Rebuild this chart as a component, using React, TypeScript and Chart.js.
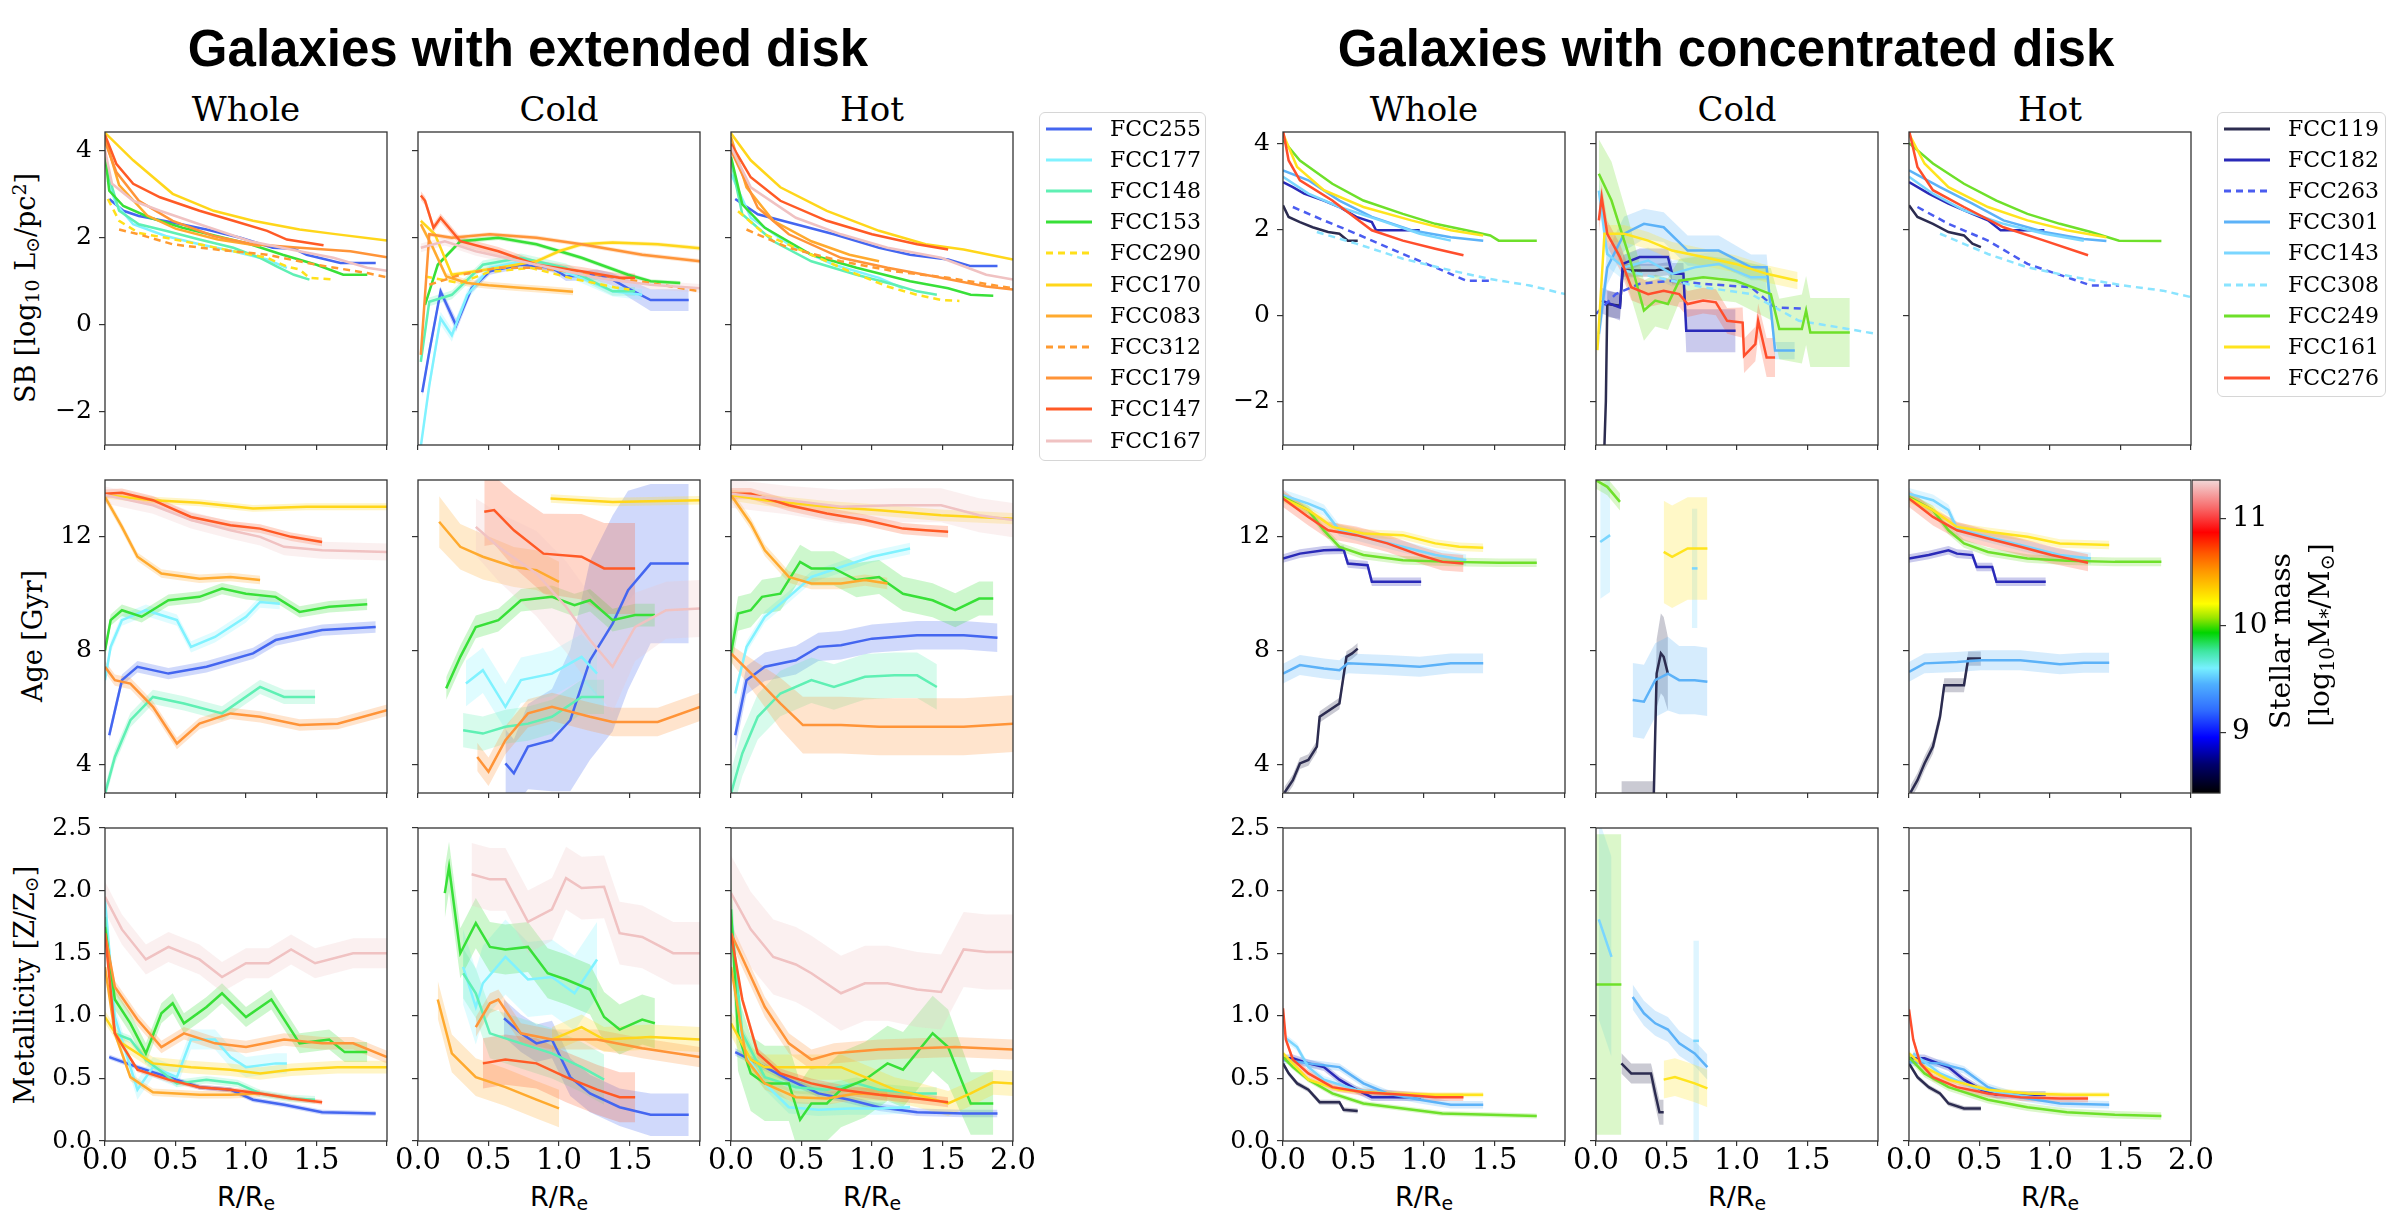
import React, { useEffect, useRef } from 'react';
import { Chart, registerables } from 'chart.js';
Chart.register(...registerables);

type Pt = number[];
type PanelData = Record<string, Pt[]>;

// ---------- series names / styles ----------
const extNames = ['FCC255', 'FCC177', 'FCC148', 'FCC153', 'FCC290', 'FCC170', 'FCC083', 'FCC312', 'FCC179', 'FCC147', 'FCC167'];
const extColors = ['#4466f0', '#80f2ff', '#5ff0b4', '#38e038', '#ffe01a', '#ffd61a', '#ffaa2e', '#ff9a30', '#ff9438', '#ff5a26', '#f0c2c2'];
const extDashed = [false, false, false, false, true, false, false, true, false, false, false];
const conNames = ['FCC119', 'FCC182', 'FCC263', 'FCC301', 'FCC143', 'FCC308', 'FCC249', 'FCC161', 'FCC276'];
const conColors = ['#2c2c50', '#2a2ab8', '#4a5cf0', '#5cb2f8', '#7ad6ff', '#8ae4ff', '#6ee02a', '#ffe41e', '#ff4e2c'];
const conDashed = [false, false, true, false, false, true, false, false, false];

// ---------- ticks ----------
const xTicks = [0, 0.5, 1, 1.5, 2];
const sbTicks = [-2, 0, 2, 4];
const ageTicks = [4, 8, 12];
const zTicks = [0, 0.5, 1, 1.5, 2, 2.5];
const cbTicks = [9, 10, 11];
const extSBRange = [-2.77, 4.42];
const conSBRange = [-3.0, 4.26];
const ageRange = [2.99, 14.0];
const zRange = [0, 2.5];
const cbRange = [8.43, 11.36];

// ---------- data: points are [R/Re, value, band half-width] ----------
const extSBWhole: PanelData = {
  FCC255: [[0.03, 2.88], [0.13, 2.61], [0.24, 2.49], [0.48, 2.34], [0.72, 2.18], [0.96, 1.99], [1.19, 1.76], [1.34, 1.74], [1.43, 1.6], [1.67, 1.41], [1.92, 1.41]],
  FCC177: [[0.02, 3.3], [0.08, 2.76], [0.2, 2.3], [0.43, 2.03], [0.67, 1.84], [0.91, 1.68], [1.15, 1.49], [1.29, 1.3]],
  FCC148: [[0, 3.9], [0.03, 3.38], [0.1, 2.61], [0.24, 2.3], [0.43, 2.15], [0.67, 1.95], [0.91, 1.76], [1.1, 1.53], [1.22, 1.33], [1.34, 1.14], [1.45, 1.03]],
  FCC153: [[0, 3.9], [0.03, 3.07], [0.13, 2.72], [0.32, 2.45], [0.55, 2.22], [0.79, 2.03], [1.03, 1.84], [1.26, 1.6], [1.5, 1.37], [1.69, 1.14], [1.86, 1.14]],
  FCC290: [[0.02, 2.88], [0.1, 2.38], [0.24, 2.1], [0.43, 1.99], [0.67, 1.84], [0.91, 1.68], [1.15, 1.53], [1.29, 1.33], [1.38, 1.26], [1.45, 1.07], [1.62, 1.03]],
  FCC170: [[0, 4.4], [0.2, 3.77], [0.48, 3.0], [0.77, 2.61], [1.05, 2.38], [1.38, 2.18], [1.62, 2.08], [2.0, 1.93]],
  FCC083: [[0, 4.3], [0.1, 3.2], [0.3, 2.5], [0.5, 2.2], [0.8, 1.95], [1.1, 1.8]],
  FCC312: [[0.1, 2.18], [0.24, 2.07], [0.48, 1.84], [0.79, 1.72], [1.15, 1.6], [1.5, 1.37], [1.86, 1.18], [2.0, 1.08]],
  FCC179: [[0, 4.2], [0.08, 3.5], [0.24, 2.84], [0.48, 2.38], [0.77, 2.03], [1.05, 1.84], [1.38, 1.76], [1.74, 1.68], [2.0, 1.54]],
  FCC147: [[0, 4.35], [0.08, 3.69], [0.2, 3.23], [0.39, 2.92], [0.67, 2.61], [0.91, 2.38], [1.15, 2.15], [1.29, 1.95], [1.55, 1.82]],
  FCC167: [[0, 4.0], [0.05, 3.23], [0.2, 2.84], [0.39, 2.61], [0.67, 2.3], [1.03, 1.91], [1.38, 1.68], [1.62, 1.53], [1.86, 1.3], [2.0, 1.23]],
};
const extSBCold: PanelData = {
  FCC255: [[0.03, -1.56, 0.1], [0.08, -0.63, 0.15], [0.16, 0.76, 0.1], [0.27, -0.02, 0.15], [0.38, 0.83, 0.1], [0.51, 1.22, 0.08], [0.73, 1.37, 0.08], [0.95, 1.3, 0.08], [1.05, 1.1, 0.1], [1.27, 1.14, 0.12], [1.38, 1.03, 0.15], [1.49, 0.83, 0.2], [1.65, 0.56, 0.25], [1.92, 0.56, 0.25]],
  FCC177: [[0.02, -2.8, 0.1], [0.08, -1.4, 0.15], [0.16, 0.14, 0.15], [0.24, -0.25, 0.15], [0.35, 0.68, 0.12], [0.51, 1.3, 0.1], [0.73, 1.45, 0.1], [0.95, 1.3, 0.1], [1.16, 1.07, 0.12], [1.38, 0.76, 0.12], [1.59, 0.68, 0.12]],
  FCC148: [[0.02, -0.86, 0.1], [0.08, 0.52, 0.1], [0.24, 0.68, 0.1], [0.46, 1.37, 0.1], [0.73, 1.53, 0.1], [1.05, 1.3, 0.1], [1.38, 0.76, 0.1], [1.54, 0.76, 0.1]],
  FCC153: [[0.05, 0.45, 0.05], [0.14, 1.37, 0.05], [0.3, 1.91, 0.05], [0.57, 1.99, 0.05], [0.84, 1.84, 0.05], [1.16, 1.53, 0.05], [1.49, 1.14, 0.05], [1.65, 0.99, 0.05], [1.86, 0.95, 0.05]],
  FCC290: [[0.05, 1.1], [0.3, 0.95], [0.5, 1.2], [0.8, 1.3], [1.1, 1.05], [1.4, 0.85], [1.5, 0.8]],
  FCC170: [[0.02, 2.38, 0.05], [0.12, 2.07, 0.05], [0.24, 1.14, 0.05], [0.41, 1.22, 0.05], [0.57, 1.3, 0.05], [0.84, 1.45, 0.05], [1.0, 1.68, 0.05], [1.16, 1.84, 0.05], [1.38, 1.88, 0.05], [1.7, 1.84, 0.05], [2.0, 1.75, 0.05]],
  FCC083: [[0.02, 2.3, 0.08], [0.1, 1.8, 0.08], [0.2, 1.1, 0.08], [0.35, 0.95, 0.08], [0.5, 0.9, 0.08], [0.7, 0.85, 0.08], [0.9, 0.8, 0.08], [1.1, 0.75, 0.08]],
  FCC312: [[0.08, 0.91], [0.3, 1.14], [0.57, 1.3], [0.84, 1.3], [1.27, 1.14], [1.65, 0.95], [2.0, 0.76]],
  FCC179: [[0.02, -0.7, 0.05], [0.08, 2.07, 0.05], [0.24, 1.99, 0.05], [0.51, 2.07, 0.05], [0.84, 1.99, 0.05], [1.16, 1.84, 0.05], [1.59, 1.6, 0.05], [2.0, 1.45, 0.05]],
  FCC147: [[0.02, 2.96, 0.1], [0.05, 2.84, 0.1], [0.11, 2.22, 0.1], [0.16, 2.45, 0.1], [0.3, 1.91, 0.1], [0.57, 1.68, 0.1], [0.84, 1.37, 0.1], [1.16, 1.22, 0.1], [1.43, 1.07, 0.1], [1.54, 1.07, 0.1]],
  FCC167: [[0.02, 1.76, 0.1], [0.19, 1.91, 0.1], [0.41, 1.68, 0.1], [0.84, 1.37, 0.1], [1.27, 1.07, 0.1], [1.65, 0.91, 0.1], [2.0, 0.83, 0.1]],
};
const extSBHot: PanelData = {
  FCC255: [[0.03, 2.88], [0.19, 2.53], [0.46, 2.3], [0.73, 2.07], [1.05, 1.76], [1.27, 1.6], [1.54, 1.49], [1.7, 1.34], [1.89, 1.34]],
  FCC177: [[0, 3.46], [0.14, 2.45], [0.41, 1.84], [0.73, 1.37], [1.05, 1.07], [1.22, 0.83]],
  FCC148: [[0, 3.77], [0.08, 2.53], [0.3, 1.91], [0.57, 1.45], [0.89, 1.14], [1.16, 0.91], [1.32, 0.76], [1.46, 0.68]],
  FCC153: [[0, 3.85], [0.08, 2.76], [0.24, 2.22], [0.57, 1.6], [0.89, 1.3], [1.27, 0.99], [1.54, 0.83], [1.7, 0.68], [1.86, 0.66]],
  FCC290: [[0.05, 2.6], [0.24, 2.07], [0.57, 1.6], [0.84, 1.22], [1.11, 0.87], [1.32, 0.68], [1.49, 0.56], [1.62, 0.54]],
  FCC170: [[0, 4.39], [0.14, 3.77], [0.35, 3.15], [0.68, 2.61], [1.05, 2.15], [1.38, 1.84], [1.65, 1.72], [2.0, 1.49]],
  FCC083: [[0, 4.3], [0.11, 3.15], [0.3, 2.38], [0.57, 1.91], [0.84, 1.6], [1.05, 1.45]],
  FCC312: [[0.11, 2.18], [0.41, 1.76], [0.78, 1.45], [1.16, 1.22], [1.54, 1.07], [2.0, 0.83]],
  FCC179: [[0, 4.0], [0.19, 2.68], [0.41, 2.07], [0.78, 1.53], [1.11, 1.3], [1.49, 1.07], [1.81, 0.87], [2.0, 0.8]],
  FCC147: [[0, 4.15], [0.14, 3.38], [0.35, 2.84], [0.68, 2.38], [1.0, 2.07], [1.32, 1.84], [1.54, 1.72]],
  FCC167: [[0, 4.08], [0.14, 3.15], [0.46, 2.45], [0.78, 2.07], [1.11, 1.76], [1.49, 1.53], [1.81, 1.14], [2.0, 1.03]],
};
const extAgeWhole: PanelData = {
  FCC255: [[0.03, 5.02, 0.2], [0.12, 6.96, 0.2], [0.23, 7.43, 0.2], [0.45, 7.19, 0.2], [0.72, 7.43, 0.2], [1.05, 7.9, 0.2], [1.21, 8.37, 0.2], [1.54, 8.72, 0.2], [1.92, 8.83, 0.2]],
  FCC177: [[0, 6.96, 0.2], [0.04, 8.13, 0.2], [0.12, 9.07, 0.2], [0.29, 9.42, 0.2], [0.51, 9.07, 0.2], [0.61, 8.13, 0.2], [0.78, 8.48, 0.2], [1.0, 9.19, 0.2], [1.1, 9.71, 0.2], [1.24, 9.65, 0.2]],
  FCC148: [[0, 2.97, 0.25], [0.07, 4.26, 0.25], [0.18, 5.55, 0.25], [0.34, 6.37, 0.25], [0.56, 6.14, 0.25], [0.83, 5.79, 0.25], [1.1, 6.72, 0.25], [1.27, 6.37, 0.25], [1.49, 6.37, 0.25]],
  FCC153: [[0, 8.0, 0.2], [0.04, 9.07, 0.2], [0.12, 9.42, 0.2], [0.26, 9.19, 0.2], [0.45, 9.77, 0.2], [0.67, 9.89, 0.2], [0.83, 10.18, 0.2], [1.0, 10.0, 0.2], [1.21, 9.89, 0.2], [1.38, 9.36, 0.2], [1.59, 9.54, 0.2], [1.86, 9.63, 0.2]],
  FCC170: [[0, 13.47, 0.12], [0.34, 13.29, 0.12], [0.67, 13.2, 0.12], [1.05, 13.0, 0.12], [1.43, 13.06, 0.12], [2.0, 13.06, 0.12]],
  FCC083: [[0, 13.4, 0.15], [0.12, 12.35, 0.15], [0.23, 11.3, 0.15], [0.4, 10.71, 0.15], [0.67, 10.53, 0.15], [0.89, 10.59, 0.15], [1.1, 10.48, 0.15]],
  FCC179: [[0, 7.43, 0.2], [0.07, 6.96, 0.2], [0.18, 6.84, 0.2], [0.34, 6.02, 0.2], [0.51, 4.73, 0.2], [0.67, 5.43, 0.2], [0.89, 5.79, 0.2], [1.1, 5.67, 0.2], [1.38, 5.38, 0.2], [1.65, 5.43, 0.2], [2.0, 5.9, 0.2]],
  FCC147: [[0, 13.52, 0.15], [0.12, 13.55, 0.15], [0.34, 13.29, 0.15], [0.61, 12.7, 0.15], [0.89, 12.41, 0.15], [1.1, 12.29, 0.15], [1.32, 12.0, 0.15], [1.54, 11.82, 0.15]],
  FCC167: [[0, 13.47, 0.3], [0.34, 13.11, 0.3], [0.61, 12.59, 0.3], [0.89, 12.23, 0.3], [1.1, 12.0, 0.3], [1.27, 11.65, 0.3], [1.54, 11.53, 0.3], [2.0, 11.47, 0.3]],
};
const extAgeCold: PanelData = {
  FCC255: [[0.62, 4.03, 1.2], [0.68, 3.68, 1.2], [0.78, 4.62, 1.5], [0.95, 4.85, 1.8], [1.08, 5.55, 2.5], [1.22, 7.66, 3.5], [1.38, 8.95, 3.8], [1.49, 10.12, 3.5], [1.65, 11.06, 2.8], [1.92, 11.06, 2.8]],
  FCC177: [[0.34, 6.84, 0.8], [0.46, 7.31, 0.8], [0.62, 6.02, 0.8], [0.73, 6.96, 0.8], [0.95, 7.19, 0.8], [1.16, 7.78, 0.8], [1.27, 7.19, 0.8]],
  FCC148: [[0.32, 5.2, 0.6], [0.46, 5.08, 0.6], [0.62, 5.32, 0.6], [0.78, 5.43, 0.6], [0.95, 5.67, 0.6], [1.16, 6.37, 0.6], [1.32, 6.37, 0.6]],
  FCC153: [[0.2, 6.67, 0.4], [0.3, 7.78, 0.4], [0.41, 8.83, 0.4], [0.57, 9.07, 0.4], [0.73, 9.77, 0.4], [0.95, 9.89, 0.4], [1.11, 9.6, 0.4], [1.22, 9.77, 0.4], [1.38, 9.07, 0.4], [1.54, 9.25, 0.4], [1.68, 9.25, 0.4]],
  FCC170: [[0.94, 13.35, 0.15], [1.38, 13.23, 0.15], [2.0, 13.29, 0.15]],
  FCC083: [[0.15, 12.53, 0.9], [0.3, 11.65, 0.8], [0.46, 11.3, 0.8], [0.68, 10.94, 0.7], [0.84, 10.83, 0.7], [1.0, 10.42, 0.7]],
  FCC179: [[0.42, 4.26, 0.5], [0.5, 3.74, 0.5], [0.62, 4.85, 0.5], [0.78, 5.79, 0.5], [0.95, 6.02, 0.5], [1.22, 5.67, 0.5], [1.38, 5.49, 0.5], [1.7, 5.49, 0.5], [2.0, 6.02, 0.5]],
  FCC147: [[0.47, 12.88, 1.2], [0.54, 12.94, 1.2], [0.68, 12.23, 1.3], [0.89, 11.41, 1.4], [1.16, 11.3, 1.5], [1.32, 10.89, 1.6], [1.54, 10.89, 1.6]],
  FCC167: [[0.41, 12.35, 1.0], [0.57, 11.65, 1.2], [0.84, 10.71, 1.5], [1.05, 9.54, 1.6], [1.22, 8.37, 1.6], [1.38, 7.43, 1.6], [1.54, 8.83, 1.2], [1.76, 9.42, 1.0], [2.0, 9.48, 1.0]],
};
const extAgeHot: PanelData = {
  FCC255: [[0.03, 5.02, 0.5], [0.11, 6.96, 0.5], [0.24, 7.43, 0.5], [0.46, 7.66, 0.5], [0.62, 8.13, 0.5], [0.78, 8.19, 0.5], [1.0, 8.42, 0.5], [1.32, 8.54, 0.5], [1.65, 8.54, 0.5], [1.89, 8.45, 0.5]],
  FCC177: [[0.03, 6.49, 0.2], [0.11, 8.13, 0.2], [0.24, 9.19, 0.2], [0.41, 9.89, 0.2], [0.57, 10.59, 0.2], [0.78, 10.94, 0.2], [1.0, 11.3, 0.2], [1.27, 11.59, 0.2]],
  FCC148: [[0, 2.97, 0.8], [0.08, 4.38, 0.8], [0.19, 5.67, 0.8], [0.35, 6.49, 0.8], [0.57, 6.96, 0.8], [0.73, 6.72, 0.8], [0.95, 7.08, 0.8], [1.16, 7.13, 0.8], [1.32, 7.13, 0.8], [1.46, 6.72, 0.8]],
  FCC153: [[0, 7.9, 0.6], [0.05, 9.3, 0.6], [0.14, 9.42, 0.6], [0.22, 9.89, 0.6], [0.35, 10.0, 0.6], [0.49, 11.12, 0.6], [0.57, 10.89, 0.6], [0.73, 10.89, 0.6], [0.89, 10.48, 0.6], [1.05, 10.59, 0.6], [1.22, 10.0, 0.6], [1.43, 9.77, 0.6], [1.59, 9.42, 0.6], [1.76, 9.83, 0.6], [1.86, 9.83, 0.6]],
  FCC170: [[0, 13.47, 0.2], [0.24, 13.29, 0.2], [0.68, 13.06, 0.2], [1.05, 12.94, 0.2], [1.49, 12.76, 0.2], [2.0, 12.64, 0.2]],
  FCC083: [[0, 13.47, 0.2], [0.14, 12.47, 0.2], [0.24, 11.53, 0.2], [0.41, 10.59, 0.2], [0.57, 10.36, 0.2], [0.78, 10.36, 0.2], [0.95, 10.48, 0.2], [1.11, 10.36, 0.2]],
  FCC179: [[0, 7.9, 0.3], [0.19, 6.96, 0.6], [0.35, 6.14, 0.9], [0.51, 5.38, 1.0], [0.78, 5.38, 1.0], [1.05, 5.32, 1.0], [1.32, 5.32, 1.0], [1.65, 5.32, 1.0], [2.0, 5.43, 1.0]],
  FCC147: [[0, 13.52, 0.2], [0.14, 13.52, 0.2], [0.41, 13.11, 0.2], [0.68, 12.82, 0.2], [0.95, 12.59, 0.2], [1.22, 12.29, 0.2], [1.38, 12.23, 0.2], [1.54, 12.18, 0.2]],
  FCC167: [[0, 13.52, 0.5], [0.41, 13.29, 0.5], [0.78, 13.06, 0.6], [1.16, 13.11, 0.6], [1.49, 13.11, 0.6], [1.76, 12.76, 0.6], [2.0, 12.59, 0.6]],
};
const extZWhole: PanelData = {
  FCC255: [[0.03, 0.67, 0.02], [0.23, 0.59, 0.02], [0.45, 0.51, 0.02], [0.67, 0.43, 0.02], [0.89, 0.41, 0.02], [1.05, 0.33, 0.02], [1.27, 0.29, 0.02], [1.54, 0.23, 0.02], [1.92, 0.22, 0.02]],
  FCC177: [[0, 1.93, 0.08], [0.07, 0.99, 0.08], [0.23, 0.41, 0.08], [0.34, 0.59, 0.08], [0.51, 0.51, 0.08], [0.61, 0.81, 0.08], [0.78, 0.81, 0.08], [0.89, 0.67, 0.08], [1.0, 0.59, 0.08], [1.21, 0.62, 0.08], [1.29, 0.62, 0.08]],
  FCC148: [[0, 1.79, 0.03], [0.07, 0.86, 0.03], [0.18, 0.81, 0.03], [0.29, 0.65, 0.03], [0.51, 0.46, 0.03], [0.72, 0.49, 0.03], [0.94, 0.46, 0.03], [1.1, 0.38, 0.03], [1.32, 0.34, 0.03], [1.49, 0.33, 0.03]],
  FCC153: [[0, 1.71, 0.08], [0.07, 1.13, 0.08], [0.18, 0.94, 0.08], [0.29, 0.7, 0.08], [0.4, 1.02, 0.08], [0.48, 1.1, 0.08], [0.56, 0.94, 0.08], [0.72, 1.07, 0.08], [0.83, 1.18, 0.08], [1.0, 0.99, 0.08], [1.18, 1.13, 0.08], [1.38, 0.78, 0.08], [1.59, 0.81, 0.08], [1.7, 0.71, 0.08], [1.86, 0.71, 0.08]],
  FCC170: [[0, 0.99, 0.05], [0.12, 0.78, 0.05], [0.34, 0.62, 0.05], [0.61, 0.59, 0.05], [0.89, 0.57, 0.05], [1.1, 0.54, 0.05], [1.32, 0.57, 0.05], [1.65, 0.59, 0.05], [2.0, 0.59, 0.05]],
  FCC083: [[0, 1.39, 0.03], [0.07, 0.86, 0.03], [0.18, 0.51, 0.03], [0.34, 0.39, 0.03], [0.67, 0.37, 0.03], [0.89, 0.37, 0.03], [1.1, 0.38, 0.03]],
  FCC179: [[0, 1.66, 0.05], [0.07, 1.23, 0.05], [0.23, 0.97, 0.05], [0.4, 0.75, 0.05], [0.56, 0.86, 0.05], [0.78, 0.78, 0.05], [1.0, 0.75, 0.05], [1.27, 0.81, 0.05], [1.54, 0.78, 0.05], [1.76, 0.78, 0.05], [2.0, 0.67, 0.05]],
  FCC147: [[0, 1.66, 0.02], [0.07, 0.86, 0.02], [0.23, 0.57, 0.02], [0.45, 0.49, 0.02], [0.67, 0.43, 0.02], [0.89, 0.41, 0.02], [1.1, 0.38, 0.02], [1.32, 0.34, 0.02], [1.54, 0.31, 0.02]],
  FCC167: [[0, 1.95, 0.12], [0.12, 1.69, 0.12], [0.29, 1.45, 0.12], [0.45, 1.55, 0.12], [0.67, 1.45, 0.12], [0.83, 1.31, 0.12], [1.0, 1.42, 0.12], [1.16, 1.42, 0.12], [1.32, 1.53, 0.12], [1.49, 1.42, 0.12], [1.76, 1.5, 0.12], [2.0, 1.5, 0.12]],
};
const extZCold: PanelData = {
  FCC255: [[0.61, 0.98, 0.15], [0.73, 0.86, 0.15], [0.84, 0.78, 0.15], [0.95, 0.81, 0.15], [1.08, 0.51, 0.15], [1.22, 0.38, 0.15], [1.43, 0.27, 0.15], [1.65, 0.21, 0.17], [1.92, 0.21, 0.17]],
  FCC177: [[0.32, 1.39, 0.3], [0.41, 1.07, 0.3], [0.46, 1.26, 0.3], [0.62, 1.47, 0.3], [0.78, 1.29, 0.3], [0.95, 1.31, 0.3], [1.11, 1.18, 0.3], [1.27, 1.45, 0.3]],
  FCC148: [[0.32, 1.34, 0.2], [0.41, 1.18, 0.2], [0.51, 0.86, 0.2], [0.73, 0.78, 0.2], [0.95, 0.7, 0.2], [1.16, 0.59, 0.2], [1.32, 0.49, 0.2]],
  FCC153: [[0.19, 1.98, 0.2], [0.22, 2.19, 0.2], [0.3, 1.5, 0.2], [0.41, 1.74, 0.2], [0.51, 1.55, 0.2], [0.62, 1.53, 0.2], [0.78, 1.55, 0.2], [0.92, 1.34, 0.2], [1.05, 1.29, 0.2], [1.22, 1.21, 0.2], [1.32, 0.99, 0.2], [1.43, 0.89, 0.2], [1.59, 0.97, 0.2], [1.68, 0.94, 0.2]],
  FCC170: [[0.95, 0.81, 0.1], [1.16, 0.91, 0.1], [1.32, 0.81, 0.1], [1.65, 0.83, 0.1], [2.0, 0.81, 0.1]],
  FCC083: [[0.14, 1.13, 0.15], [0.24, 0.7, 0.15], [0.41, 0.51, 0.15], [0.62, 0.43, 0.15], [0.84, 0.33, 0.15], [1.0, 0.26, 0.15]],
  FCC179: [[0.41, 0.91, 0.08], [0.51, 1.1, 0.08], [0.57, 1.13, 0.08], [0.73, 0.86, 0.08], [0.95, 0.81, 0.08], [1.27, 0.81, 0.08], [1.59, 0.74, 0.08], [2.0, 0.67, 0.08]],
  FCC147: [[0.46, 0.62, 0.2], [0.62, 0.65, 0.2], [0.84, 0.62, 0.2], [1.05, 0.51, 0.2], [1.27, 0.41, 0.2], [1.43, 0.35, 0.2], [1.54, 0.35, 0.2]],
  FCC167: [[0.38, 2.13, 0.25], [0.51, 2.09, 0.25], [0.62, 2.09, 0.25], [0.78, 1.75, 0.25], [0.95, 1.85, 0.25], [1.05, 2.1, 0.25], [1.16, 2.02, 0.25], [1.32, 2.03, 0.25], [1.43, 1.66, 0.25], [1.59, 1.63, 0.25], [1.81, 1.5, 0.25], [2.0, 1.5, 0.25]],
};
const extZHot: PanelData = {
  FCC255: [[0.03, 0.71, 0.03], [0.19, 0.62, 0.03], [0.41, 0.49, 0.03], [0.62, 0.38, 0.03], [0.84, 0.33, 0.03], [1.05, 0.27, 0.03], [1.32, 0.23, 0.03], [1.65, 0.22, 0.03], [1.89, 0.22, 0.03]],
  FCC177: [[0, 1.85, 0.05], [0.08, 0.73, 0.05], [0.24, 0.46, 0.05], [0.41, 0.27, 0.05], [0.62, 0.25, 0.05], [0.84, 0.26, 0.05], [1.05, 0.26, 0.05], [1.27, 0.27, 0.05]],
  FCC148: [[0, 1.79, 0.05], [0.08, 0.86, 0.05], [0.24, 0.51, 0.05], [0.46, 0.43, 0.05], [0.68, 0.41, 0.05], [0.89, 0.46, 0.05], [1.05, 0.41, 0.05], [1.32, 0.38, 0.05], [1.46, 0.38, 0.05]],
  FCC153: [[0, 1.85, 0.3], [0.05, 0.86, 0.3], [0.14, 0.54, 0.3], [0.24, 0.46, 0.3], [0.41, 0.46, 0.3], [0.49, 0.17, 0.3], [0.57, 0.3, 0.3], [0.68, 0.3, 0.3], [0.78, 0.41, 0.3], [0.95, 0.49, 0.3], [1.11, 0.62, 0.3], [1.22, 0.57, 0.3], [1.43, 0.86, 0.3], [1.54, 0.75, 0.3], [1.7, 0.3, 0.25], [1.86, 0.3, 0.25]],
  FCC170: [[0, 0.94, 0.1], [0.14, 0.65, 0.1], [0.24, 0.59, 0.1], [0.57, 0.59, 0.1], [0.78, 0.59, 0.1], [0.95, 0.51, 0.1], [1.16, 0.41, 0.1], [1.32, 0.37, 0.1], [1.54, 0.3, 0.1], [1.7, 0.38, 0.1], [1.86, 0.47, 0.1], [2.0, 0.46, 0.1]],
  FCC083: [[0, 1.39, 0.05], [0.11, 0.65, 0.05], [0.24, 0.46, 0.05], [0.46, 0.35, 0.05], [0.68, 0.34, 0.05], [0.89, 0.38, 0.05], [1.11, 0.37, 0.05]],
  FCC179: [[0, 1.66, 0.08], [0.11, 1.39, 0.08], [0.24, 1.07, 0.08], [0.41, 0.78, 0.08], [0.57, 0.65, 0.08], [0.73, 0.7, 0.08], [1.05, 0.73, 0.08], [1.32, 0.74, 0.08], [1.59, 0.75, 0.08], [2.0, 0.73, 0.08]],
  FCC147: [[0, 1.66, 0.04], [0.08, 1.13, 0.04], [0.19, 0.7, 0.04], [0.35, 0.54, 0.04], [0.57, 0.46, 0.04], [0.78, 0.41, 0.04], [1.05, 0.37, 0.04], [1.32, 0.34, 0.04], [1.54, 0.31, 0.04]],
  FCC167: [[0, 1.98, 0.3], [0.14, 1.69, 0.3], [0.3, 1.47, 0.3], [0.46, 1.41, 0.3], [0.57, 1.34, 0.3], [0.78, 1.18, 0.3], [0.95, 1.26, 0.3], [1.11, 1.26, 0.3], [1.32, 1.21, 0.3], [1.49, 1.19, 0.3], [1.65, 1.53, 0.3], [1.81, 1.51, 0.3], [2.0, 1.51, 0.3]],
};

const conSBWhole: PanelData = {
  FCC119: [[0, 2.56], [0.04, 2.29], [0.12, 2.17], [0.21, 2.05], [0.32, 1.94], [0.4, 1.9], [0.46, 1.74], [0.53, 1.74]],
  FCC182: [[0, 3.1], [0.07, 2.98], [0.15, 2.83], [0.29, 2.67], [0.4, 2.52], [0.52, 2.29], [0.63, 2.17], [0.66, 1.98], [0.97, 1.98]],
  FCC263: [[0.07, 2.52], [0.29, 2.21], [0.52, 1.9], [0.85, 1.43], [1.13, 1.05], [1.3, 0.81], [1.47, 0.81]],
  FCC301: [[0, 3.37], [0.18, 3.14], [0.4, 2.67], [0.63, 2.29], [0.91, 1.98], [1.19, 1.82], [1.42, 1.74]],
  FCC143: [[0, 3.22], [0.18, 2.83], [0.4, 2.52], [0.69, 2.21], [0.97, 1.9], [1.19, 1.74]],
  FCC308: [[0.24, 1.94], [0.52, 1.67], [0.85, 1.32], [1.19, 1.05], [1.47, 0.85], [1.75, 0.7], [2.0, 0.5]],
  FCC249: [[0, 4.07], [0.12, 3.6], [0.35, 3.06], [0.57, 2.67], [0.85, 2.36], [1.08, 2.13], [1.3, 1.98], [1.47, 1.86], [1.53, 1.74], [1.8, 1.74]],
  FCC161: [[0, 4.22], [0.1, 3.45], [0.29, 2.91], [0.57, 2.52], [0.91, 2.21], [1.19, 1.98], [1.42, 1.86]],
  FCC276: [[0, 4.3], [0.04, 3.6], [0.12, 3.14], [0.35, 2.67], [0.63, 1.98], [0.85, 1.74], [1.08, 1.55], [1.28, 1.4]],
};
const conSBCold: PanelData = {
  FCC119: [[0.06, -3.0, 0.2], [0.07, -1.98, 0.3], [0.08, 0.27, 0.3], [0.17, 0.23, 0.3], [0.19, 1.05, 0.15], [0.42, 1.05, 0.15], [0.51, 1.09, 0.15], [0.54, 0.98, 0.15]],
  FCC182: [[0.04, 0.35, 0.3], [0.17, 0.19, 0.3], [0.19, 1.2, 0.2], [0.31, 1.36, 0.2], [0.51, 1.36, 0.2], [0.54, 0.97, 0.25], [0.62, 0.97, 0.25], [0.64, -0.35, 0.5], [0.99, -0.35, 0.5]],
  FCC263: [[0, 0.04], [0.14, 0.5], [0.31, 0.74], [0.54, 0.81], [0.76, 0.74], [1.1, 0.66], [1.27, 0.19], [1.49, 0.16]],
  FCC301: [[0.02, -0.43, 0.3], [0.08, 1.12, 0.4], [0.2, 1.9, 0.4], [0.34, 2.13, 0.35], [0.48, 2.05, 0.35], [0.65, 1.51, 0.35], [0.87, 1.51, 0.35], [1.1, 1.12, 0.3], [1.21, 1.12, 0.3], [1.27, -0.81, 0.2], [1.41, -0.81, 0.2]],
  FCC143: [[0.02, 2.9, 0.3], [0.08, 1.43, 0.3], [0.2, 1.12, 0.3], [0.37, 1.28, 0.3], [0.54, 0.97, 0.3], [0.7, 1.12, 0.3], [0.87, 1.2, 0.3], [1.1, 0.89, 0.3], [1.21, 0.89, 0.3]],
  FCC308: [[0.2, 1.05], [0.42, 0.89], [0.76, 0.66], [1.1, 0.5], [1.44, -0.12], [1.72, -0.27], [2.0, -0.43]],
  FCC249: [[0.02, 3.29, 0.8], [0.11, 2.67, 0.9], [0.23, 1.43, 0.8], [0.34, 0.12, 0.7], [0.42, 0.35, 0.6], [0.51, 0.27, 0.6], [0.59, 0.81, 0.5], [0.76, 0.89, 0.5], [0.99, 0.81, 0.5], [1.24, 0.5, 0.6], [1.3, -0.31, 0.7], [1.46, -0.31, 0.8], [1.49, 0.12, 0.8], [1.52, -0.39, 0.8], [1.8, -0.39, 0.8]],
  FCC161: [[0.01, -0.8, 0.2], [0.06, 1.9, 0.2], [0.2, 1.9, 0.2], [0.37, 1.74, 0.2], [0.54, 1.51, 0.2], [0.76, 1.36, 0.2], [0.99, 1.2, 0.2], [1.21, 0.97, 0.2], [1.43, 0.81, 0.2]],
  FCC276: [[0.02, 2.21, 0.3], [0.04, 2.75, 0.3], [0.08, 1.9, 0.3], [0.17, 1.36, 0.3], [0.25, 0.66, 0.3], [0.37, 0.5, 0.3], [0.48, 0.58, 0.3], [0.59, 0.5, 0.3], [0.65, 0.27, 0.3], [0.76, 0.35, 0.3], [0.85, 0.31, 0.3], [0.93, -0.12, 0.3], [1.04, -0.16, 0.35], [1.05, -0.93, 0.4], [1.13, -0.66, 0.4], [1.15, -0.12, 0.4], [1.21, -0.97, 0.45], [1.27, -0.97, 0.45]],
};
const conSBHot: PanelData = {
  FCC119: [[0, 2.56], [0.06, 2.29], [0.17, 2.13], [0.28, 1.94], [0.39, 1.86], [0.45, 1.67], [0.51, 1.59]],
  FCC182: [[0, 3.1], [0.14, 2.83], [0.28, 2.6], [0.45, 2.36], [0.56, 2.21], [0.65, 1.98], [0.96, 1.98]],
  FCC263: [[0.06, 2.52], [0.28, 2.13], [0.56, 1.74], [0.84, 1.2], [1.12, 0.89], [1.29, 0.7], [1.49, 0.7]],
  FCC301: [[0, 3.37], [0.22, 2.98], [0.45, 2.6], [0.67, 2.21], [0.96, 1.94], [1.24, 1.78], [1.4, 1.73]],
  FCC143: [[0, 3.22], [0.17, 2.83], [0.39, 2.44], [0.67, 2.13], [0.96, 1.9], [1.24, 1.74]],
  FCC308: [[0.22, 1.9], [0.56, 1.43], [0.84, 1.12], [1.18, 0.89], [1.52, 0.7], [1.8, 0.58], [2.0, 0.43]],
  FCC249: [[0, 4.0], [0.17, 3.53], [0.39, 3.06], [0.62, 2.67], [0.84, 2.36], [1.07, 2.13], [1.29, 1.94], [1.49, 1.74], [1.79, 1.73]],
  FCC161: [[0, 4.22], [0.11, 3.53], [0.28, 2.98], [0.56, 2.52], [0.84, 2.21], [1.12, 1.98], [1.4, 1.82]],
  FCC276: [[0, 4.3], [0.06, 3.45], [0.17, 2.91], [0.39, 2.52], [0.67, 2.05], [0.96, 1.74], [1.27, 1.4]],
};
const conAgeWhole: PanelData = {
  FCC119: [[0.01, 3.0, 0.2], [0.07, 3.44, 0.2], [0.12, 4.03, 0.2], [0.18, 4.15, 0.2], [0.24, 4.62, 0.2], [0.26, 5.67, 0.2], [0.4, 6.14, 0.2], [0.45, 7.78, 0.2], [0.49, 7.9, 0.2], [0.53, 8.07, 0.2]],
  FCC182: [[0, 11.24, 0.15], [0.12, 11.41, 0.15], [0.29, 11.53, 0.15], [0.43, 11.55, 0.15], [0.46, 11.06, 0.15], [0.6, 11.0, 0.15], [0.63, 10.42, 0.15], [0.98, 10.42, 0.15]],
  FCC301: [[0, 7.19, 0.35], [0.12, 7.49, 0.35], [0.29, 7.37, 0.35], [0.4, 7.31, 0.35], [0.46, 7.55, 0.35], [0.74, 7.49, 0.35], [0.97, 7.43, 0.35], [1.19, 7.55, 0.35], [1.42, 7.55, 0.35]],
  FCC143: [[0, 13.47, 0.2], [0.18, 13.17, 0.2], [0.29, 12.94, 0.2], [0.4, 12.23, 0.2], [0.57, 12.0, 0.2], [0.85, 11.65, 0.2], [1.08, 11.36, 0.2], [1.3, 11.18, 0.2]],
  FCC249: [[0, 13.41, 0.15], [0.18, 12.94, 0.15], [0.29, 12.23, 0.15], [0.4, 11.65, 0.15], [0.57, 11.36, 0.15], [0.85, 11.18, 0.15], [1.19, 11.12, 0.15], [1.53, 11.09, 0.15], [1.8, 11.09, 0.15]],
  FCC161: [[0, 13.35, 0.15], [0.18, 12.94, 0.15], [0.35, 12.35, 0.15], [0.57, 12.12, 0.15], [0.85, 12.06, 0.15], [1.08, 11.77, 0.15], [1.25, 11.65, 0.15], [1.42, 11.62, 0.15]],
  FCC276: [[0, 13.35, 0.3], [0.18, 12.7, 0.3], [0.32, 12.23, 0.3], [0.52, 12.06, 0.3], [0.74, 11.77, 0.3], [0.97, 11.36, 0.3], [1.13, 11.12, 0.3], [1.28, 11.06, 0.3]],
};
const conAgeCold: PanelData = {
  FCC119: [[0.18, 2.9, 0.5], [0.4, 2.9, 0.5], [0.41, 2.95, 0.5], [0.43, 7.19, 1.2], [0.46, 7.9, 1.4], [0.48, 7.78, 1.4], [0.51, 7.19, 1.3]],
  FCC301: [[0.26, 6.26, 1.3], [0.34, 6.2, 1.3], [0.42, 6.96, 1.3], [0.51, 7.19, 1.3], [0.59, 6.96, 1.2], [0.7, 6.96, 1.2], [0.79, 6.9, 1.2]],
  FCC143: [[0.03, 11.82, 2.0], [0.1, 12.06, 2.0]],
  FCC143b: [[0.68, 10.89, 2.1], [0.72, 10.89, 2.1]],
  FCC249: [[0, 13.99, 0.3], [0.08, 13.76, 0.3], [0.17, 13.23, 0.3]],
  FCC161: [[0.48, 11.47, 1.8], [0.54, 11.3, 1.8], [0.65, 11.59, 1.8], [0.79, 11.59, 1.8]],
};
const conAgeHot: PanelData = {
  FCC119: [[0.01, 3.0, 0.25], [0.06, 3.44, 0.25], [0.11, 4.03, 0.25], [0.17, 4.62, 0.25], [0.22, 5.67, 0.25], [0.25, 6.78, 0.25], [0.39, 6.78, 0.25], [0.42, 7.72, 0.25], [0.51, 7.72, 0.25]],
  FCC182: [[0, 11.24, 0.15], [0.14, 11.36, 0.15], [0.28, 11.53, 0.15], [0.34, 11.41, 0.15], [0.45, 11.36, 0.15], [0.48, 10.94, 0.15], [0.59, 10.94, 0.15], [0.62, 10.42, 0.15], [0.97, 10.42, 0.15]],
  FCC301: [[0, 7.25, 0.35], [0.11, 7.55, 0.35], [0.34, 7.6, 0.35], [0.51, 7.66, 0.35], [0.79, 7.66, 0.35], [1.07, 7.52, 0.35], [1.24, 7.57, 0.35], [1.42, 7.57, 0.35]],
  FCC143: [[0, 13.52, 0.2], [0.17, 13.29, 0.2], [0.28, 12.94, 0.2], [0.34, 12.29, 0.2], [0.56, 12.0, 0.2], [0.84, 11.65, 0.2], [1.07, 11.36, 0.2], [1.29, 11.24, 0.2]],
  FCC249: [[0, 13.41, 0.15], [0.17, 12.94, 0.15], [0.28, 12.23, 0.15], [0.39, 11.77, 0.15], [0.56, 11.47, 0.15], [0.84, 11.24, 0.15], [1.12, 11.16, 0.15], [1.46, 11.12, 0.15], [1.79, 11.12, 0.15]],
  FCC161: [[0, 13.35, 0.15], [0.17, 12.94, 0.15], [0.34, 12.35, 0.15], [0.56, 12.18, 0.15], [0.84, 12.0, 0.15], [1.07, 11.77, 0.15], [1.42, 11.71, 0.15]],
  FCC276: [[0, 13.35, 0.3], [0.17, 12.7, 0.3], [0.34, 12.23, 0.3], [0.56, 11.94, 0.3], [0.79, 11.65, 0.3], [1.01, 11.36, 0.3], [1.27, 11.09, 0.3]],
};
const conZWhole: PanelData = {
  FCC119: [[0, 0.62, 0.02], [0.04, 0.54, 0.02], [0.1, 0.46, 0.02], [0.18, 0.41, 0.02], [0.26, 0.31, 0.02], [0.4, 0.31, 0.02], [0.43, 0.25, 0.02], [0.53, 0.24, 0.02]],
  FCC182: [[0, 0.66, 0.03], [0.07, 0.66, 0.03], [0.18, 0.62, 0.03], [0.29, 0.59, 0.03], [0.4, 0.49, 0.03], [0.52, 0.41, 0.03], [0.63, 0.35, 0.03], [0.98, 0.35, 0.03]],
  FCC301: [[0, 0.65, 0.03], [0.18, 0.62, 0.03], [0.4, 0.59, 0.03], [0.57, 0.46, 0.03], [0.74, 0.38, 0.03], [0.97, 0.33, 0.03], [1.19, 0.29, 0.03], [1.42, 0.29, 0.03]],
  FCC143: [[0.02, 0.82, 0.03], [0.1, 0.75, 0.03], [0.18, 0.59, 0.03], [0.29, 0.49, 0.03], [0.52, 0.41, 0.03], [0.74, 0.38, 0.03], [1.0, 0.35, 0.03]],
  FCC249: [[0, 0.67, 0.02], [0.07, 0.59, 0.02], [0.18, 0.49, 0.02], [0.35, 0.38, 0.02], [0.57, 0.3, 0.02], [0.85, 0.26, 0.02], [1.13, 0.22, 0.02], [1.47, 0.21, 0.02], [1.8, 0.2, 0.02]],
  FCC161: [[0, 0.7, 0.02], [0.07, 0.62, 0.02], [0.18, 0.49, 0.02], [0.4, 0.41, 0.02], [0.74, 0.38, 0.02], [1.08, 0.37, 0.02], [1.42, 0.37, 0.02]],
  FCC276: [[0, 1.06, 0.03], [0.02, 0.81, 0.03], [0.07, 0.65, 0.03], [0.18, 0.54, 0.03], [0.35, 0.43, 0.03], [0.57, 0.39, 0.03], [0.85, 0.37, 0.03], [1.08, 0.35, 0.03], [1.28, 0.35, 0.03]],
};
const conZCold: PanelData = {
  FCC119: [[0.18, 0.62, 0.08], [0.25, 0.54, 0.08], [0.39, 0.54, 0.08], [0.42, 0.38, 0.1], [0.45, 0.23, 0.1], [0.48, 0.23, 0.1]],
  FCC301: [[0.26, 1.15, 0.1], [0.34, 1.02, 0.1], [0.42, 0.94, 0.1], [0.51, 0.89, 0.1], [0.59, 0.78, 0.1], [0.7, 0.7, 0.1], [0.79, 0.59, 0.1]],
  FCC143: [[0.02, 1.77, 0.8], [0.11, 1.47, 0.8]],
  FCC143b: [[0.69, 0.8, 0.8], [0.73, 0.8, 0.8]],
  FCC249: [[0, 1.25, 1.2], [0.18, 1.25, 1.2]],
  FCC161: [[0.48, 0.49, 0.15], [0.56, 0.51, 0.15], [0.7, 0.46, 0.15], [0.79, 0.42, 0.15]],
};
const conZHot: PanelData = {
  FCC119: [[0, 0.62, 0.02], [0.06, 0.51, 0.02], [0.14, 0.43, 0.02], [0.22, 0.38, 0.02], [0.28, 0.3, 0.02], [0.39, 0.26, 0.02], [0.51, 0.26, 0.02]],
  FCC182: [[0, 0.66, 0.03], [0.11, 0.66, 0.03], [0.28, 0.59, 0.03], [0.39, 0.49, 0.03], [0.51, 0.41, 0.03], [0.62, 0.37, 0.03], [0.97, 0.37, 0.03]],
  FCC301: [[0, 0.63, 0.03], [0.22, 0.62, 0.03], [0.39, 0.57, 0.03], [0.56, 0.43, 0.03], [0.79, 0.35, 0.03], [1.07, 0.3, 0.03], [1.42, 0.29, 0.03]],
  FCC143: [[0.03, 0.7, 0.03], [0.22, 0.54, 0.03], [0.45, 0.43, 0.03], [0.67, 0.38, 0.03], [0.96, 0.34, 0.03]],
  FCC249: [[0, 0.67, 0.03], [0.11, 0.54, 0.03], [0.28, 0.43, 0.03], [0.56, 0.33, 0.03], [0.84, 0.27, 0.03], [1.12, 0.23, 0.03], [1.46, 0.21, 0.03], [1.79, 0.2, 0.03]],
  FCC161: [[0, 0.7, 0.02], [0.11, 0.59, 0.02], [0.28, 0.49, 0.02], [0.56, 0.41, 0.02], [0.84, 0.38, 0.02], [1.12, 0.37, 0.02], [1.42, 0.37, 0.02]],
  FCC276: [[0, 1.05, 0.03], [0.03, 0.81, 0.03], [0.08, 0.62, 0.03], [0.17, 0.51, 0.03], [0.34, 0.43, 0.03], [0.56, 0.38, 0.03], [0.79, 0.35, 0.03], [1.07, 0.34, 0.03], [1.27, 0.34, 0.03]],
};

// colour map of the colour bar (stellar mass -> colour)
const cbStops: [number, string][] = [
  [8.43, '#000000'], [8.7, '#00006e'], [8.95, '#0000ff'], [9.2, '#2f6bff'], [9.45, '#4fb0ff'], [9.6, '#77f0ff'],
  [9.76, '#3ee6a0'], [9.93, '#00d400'], [10.07, '#9ae600'], [10.2, '#ffff00'], [10.5, '#ff9a00'], [10.67, '#ff5a00'],
  [10.87, '#ff0000'], [11.1, '#f86a6a'], [11.36, '#f2d8d8'],
];

// ---------- layout ----------
const SERIF = "'DejaVu Serif', 'Liberation Serif', serif";
const SANS = "'DejaVu Sans', 'Liberation Sans', sans-serif";
const TITLEF = "'Liberation Sans', Arial, sans-serif";
const PW = 282, PH = 313;
const PL = 110, PR = 30, PT = 12, PB = 60;
const groupLeft = [105, 1283];
const colStep = 313;
const rowTop = [132, 480, 828];

function rgba(hex: string, a: number) {
  const n = parseInt(hex.slice(1), 16);
  return `rgba(${(n >> 16) & 255},${(n >> 8) & 255},${n & 255},${a})`;
}

const framePlugin = {
  id: 'frame',
  afterDraw(chart: any) {
    const { ctx, chartArea: a } = chart;
    ctx.save();
    ctx.strokeStyle = '#333';
    ctx.lineWidth = 1.3;
    ctx.strokeRect(a.left, a.top, a.right - a.left, a.bottom - a.top);
    ctx.restore();
  },
};

const fmtSigned = (v: number) => (v < 0 ? '\u2212' + Math.abs(v) : String(v));
const fmt1 = (v: number) => v.toFixed(1);

function Panel(props: any) {
  const { left, top, data, names, colors, dashed, range, yTicks, yFmt, showY, showX, last } = props;
  const ref = useRef<HTMLCanvasElement>(null);
  useEffect(() => {
    const datasets: any[] = [];
    Object.keys(data).forEach((key) => {
      const pts = data[key];
      const idx = names.indexOf(key.slice(0, 6));
      const color = colors[idx];
      const hasBand = pts.some((q: number[]) => (q[2] || 0) > 0);
      if (hasBand) {
        datasets.push({
          data: pts.map((q: number[]) => ({ x: q[0], y: q[1] + (q[2] || 0) })),
          borderWidth: 0, borderColor: 'rgba(0,0,0,0)', pointRadius: 0,
          fill: '+1', backgroundColor: rgba(color, 0.25), order: 500 - idx,
        });
        datasets.push({
          data: pts.map((q: number[]) => ({ x: q[0], y: q[1] - (q[2] || 0) })),
          borderWidth: 0, borderColor: 'rgba(0,0,0,0)', pointRadius: 0, fill: false, order: 500 - idx,
        });
      }
      datasets.push({
        data: pts.map((q: number[]) => ({ x: q[0], y: q[1] })),
        borderColor: color, borderWidth: 2.5, borderDash: dashed[idx] ? [7, 5] : [],
        pointRadius: 0, fill: false, tension: 0, order: 100 - idx,
      });
    });
    const chart = new Chart(ref.current as HTMLCanvasElement, {
      type: 'line',
      data: { datasets },
      options: {
        animation: false, responsive: false, maintainAspectRatio: false, events: [],
        layout: { padding: { left: 0, top: PT, right: PR, bottom: 0 } },
        plugins: { legend: { display: false }, tooltip: { enabled: false } },
        scales: {
          x: {
            type: 'linear', min: 0, max: 2,
            afterFit: (s: any) => { s.height = PB; s.paddingLeft = 0; s.paddingRight = 0; },
            afterBuildTicks: (s: any) => { s.ticks = xTicks.map((v) => ({ value: v })); },
            ticks: {
              autoSkip: false, maxRotation: 0, padding: 1, color: '#000',
              font: { family: SERIF, size: 29, lineHeight: 1 },
              callback: (v: any) => (showX && (v < 2 || last) ? fmt1(Number(v)) : ''),
            },
            grid: { drawOnChartArea: false, drawTicks: true, tickLength: 5, color: '#333', lineWidth: 1.2 },
            border: { display: false },
          },
          y: {
            type: 'linear', min: range[0], max: range[1],
            afterFit: (s: any) => { s.width = PL; s.paddingTop = 0; s.paddingBottom = 0; },
            afterBuildTicks: (s: any) => { s.ticks = yTicks.map((v: number) => ({ value: v })); },
            ticks: {
              autoSkip: false, padding: 7, color: '#000',
              font: { family: SERIF, size: 25, lineHeight: 1 },
              callback: (v: any) => (showY ? yFmt(Number(v)) : ''),
            },
            grid: { drawOnChartArea: false, drawTicks: true, tickLength: 6, color: '#333', lineWidth: 1.2 },
            border: { display: false },
          },
        },
      } as any,
      plugins: [framePlugin],
    });
    return () => chart.destroy();
  }, []);
  const w = PL + PW + PR, h = PT + PH + PB;
  return <canvas ref={ref} width={w} height={h} style={{ position: 'absolute', left: left - PL, top: top - PT, width: w, height: h }} />;
}

function ColorBar() {
  const ref = useRef<HTMLCanvasElement>(null);
  const CW = 28, RW = 110;
  useEffect(() => {
    const chart = new Chart(ref.current as HTMLCanvasElement, {
      type: 'bar',
      data: {
        labels: ['M'],
        datasets: [{
          data: [[cbRange[0], cbRange[1]]] as any,
          barPercentage: 1, categoryPercentage: 1, borderWidth: 0,
          backgroundColor: (c: any) => {
            const ch = c.chart;
            const ys = ch.scales && ch.scales.y;
            if (!ch.chartArea || !ys) return '#000';
            const y0 = ys.getPixelForValue(cbRange[0]);
            const y1 = ys.getPixelForValue(cbRange[1]);
            const g = ch.ctx.createLinearGradient(0, y0, 0, y1);
            cbStops.forEach(([v, col]) => g.addColorStop(Math.min(1, Math.max(0, (v - cbRange[0]) / (cbRange[1] - cbRange[0]))), col));
            return g;
          },
        }],
      },
      options: {
        animation: false, responsive: false, maintainAspectRatio: false, events: [],
        layout: { padding: { left: 0, top: PT, right: 0, bottom: PB } },
        plugins: { legend: { display: false }, tooltip: { enabled: false } },
        scales: {
          x: { display: false },
          y: {
            type: 'linear', position: 'right', min: cbRange[0], max: cbRange[1],
            afterFit: (s: any) => { s.width = RW; s.paddingTop = 0; s.paddingBottom = 0; },
            afterBuildTicks: (s: any) => { s.ticks = cbTicks.map((v) => ({ value: v })); },
            ticks: { padding: 6, color: '#000', font: { family: SERIF, size: 28, lineHeight: 1 } },
            grid: { drawOnChartArea: false, drawTicks: true, tickLength: 6, color: '#333', lineWidth: 1.2 },
            border: { display: false },
          },
        },
      } as any,
      plugins: [framePlugin],
    });
    return () => chart.destroy();
  }, []);
  const w = CW + RW, h = PT + PH + PB;
  return <canvas ref={ref} width={w} height={h} style={{ position: 'absolute', left: 2192, top: rowTop[1] - PT, width: w, height: h }} />;
}

function Txt(p: any) {
  return (
    <div style={{
      position: 'absolute', left: p.x, top: p.y,
      transform: `translate(-50%,-50%)${p.rot ? ` rotate(${p.rot}deg)` : ''}`,
      fontFamily: p.f || SERIF, fontSize: p.s, fontWeight: p.w || 'normal',
      lineHeight: 1, whiteSpace: 'nowrap', color: '#000', textAlign: 'center',
    }}>{p.children}</div>
  );
}

const subS = { fontSize: '70%', verticalAlign: '-0.25em', lineHeight: 0 } as any;
const supS = { fontSize: '70%', verticalAlign: '0.45em', lineHeight: 0 } as any;

function Legend(p: any) {
  const { left, top, width, height, names, colors, dashed } = p;
  return (
    <div style={{ position: 'absolute', left, top, width, height, boxSizing: 'border-box', border: '1.5px solid #d6d6d6', borderRadius: 6, background: 'rgba(255,255,255,0.85)' }}>
      {names.map((n: string, i: number) => (
        <div key={n} style={{ position: 'absolute', left: 0, top: 15.6 + i * 31.2 - 12, height: 24, width: '100%' }}>
          <svg width={60} height={24} style={{ position: 'absolute', left: 6, top: 0 }}>
            <line x1={0} y1={12} x2={46} y2={12} stroke={colors[i]} strokeWidth={3} strokeDasharray={dashed[i] ? '7 5' : undefined} />
          </svg>
          <div style={{ position: 'absolute', left: 70, top: 0, fontFamily: SERIF, fontSize: 22, lineHeight: '24px', whiteSpace: 'nowrap' }}>{n}</div>
        </div>
      ))}
    </div>
  );
}

export default function App() {
  const groups = [
    { names: extNames, colors: extColors, dashed: extDashed, sbRange: extSBRange, rows: [[extSBWhole, extSBCold, extSBHot], [extAgeWhole, extAgeCold, extAgeHot], [extZWhole, extZCold, extZHot]] },
    { names: conNames, colors: conColors, dashed: conDashed, sbRange: conSBRange, rows: [[conSBWhole, conSBCold, conSBHot], [conAgeWhole, conAgeCold, conAgeHot], [conZWhole, conZCold, conZHot]] },
  ];
  const rowTicks = [sbTicks, ageTicks, zTicks];
  const rowFmt = [fmtSigned, fmtSigned, fmt1];
  const colTitles = ['Whole', 'Cold', 'Hot'];
  const panels: any[] = [];
  groups.forEach((g, gi) => {
    g.rows.forEach((row, r) => {
      row.forEach((d, c) => {
        panels.push(
          <Panel key={`${gi}-${r}-${c}`} left={groupLeft[gi] + c * colStep} top={rowTop[r]} data={d}
            names={g.names} colors={g.colors} dashed={g.dashed}
            range={r === 0 ? g.sbRange : r === 1 ? ageRange : zRange}
            yTicks={rowTicks[r]} yFmt={rowFmt[r]} showY={c === 0} showX={r === 2} last={c === 2} />
        );
      });
    });
  });
  return (
    <div style={{ position: 'fixed', left: 0, top: 0, width: 2392, height: 1225, background: '#fff', overflow: 'hidden' }}>
      <Txt x={528} y={48} s={51} f={TITLEF} w="bold">Galaxies with extended disk</Txt>
      <Txt x={1726} y={48} s={51} f={TITLEF} w="bold">Galaxies with concentrated disk</Txt>
      {[0, 1].map((gi) => colTitles.map((t, c) => (
        <Txt key={`t${gi}${c}`} x={groupLeft[gi] + c * colStep + PW / 2} y={109} s={34}>{t}</Txt>
      )))}
      {[0, 1].map((gi) => colTitles.map((t, c) => (
        <Txt key={`x${gi}${c}`} x={groupLeft[gi] + c * colStep + PW / 2} y={1196} s={27} f={SANS}>R/R<span style={subS}>e</span></Txt>
      )))}
      <Txt x={25} y={288} s={27} rot={-90}>SB [log<span style={subS}>10</span> L<span style={subS}>⊙</span>/pc<span style={supS}>2</span>]</Txt>
      <Txt x={32} y={636} s={27} rot={-90}>Age [Gyr]</Txt>
      <Txt x={24} y={985} s={27} rot={-90}>Metallicity [Z/Z<span style={subS}>⊙</span>]</Txt>
      {panels}
      <ColorBar />
      <Txt x={2281} y={641} s={28} rot={-90}>Stellar mass</Txt>
      <Txt x={2320} y={635} s={28} rot={-90}>[log<span style={subS}>10</span>M<span style={subS}>*</span>/M<span style={subS}>⊙</span>]</Txt>
      <Legend left={1039} top={112} width={167} height={349} names={extNames} colors={extColors} dashed={extDashed} />
      <Legend left={2217} top={112} width={169} height={285} names={conNames} colors={conColors} dashed={conDashed} />
    </div>
  );
}
